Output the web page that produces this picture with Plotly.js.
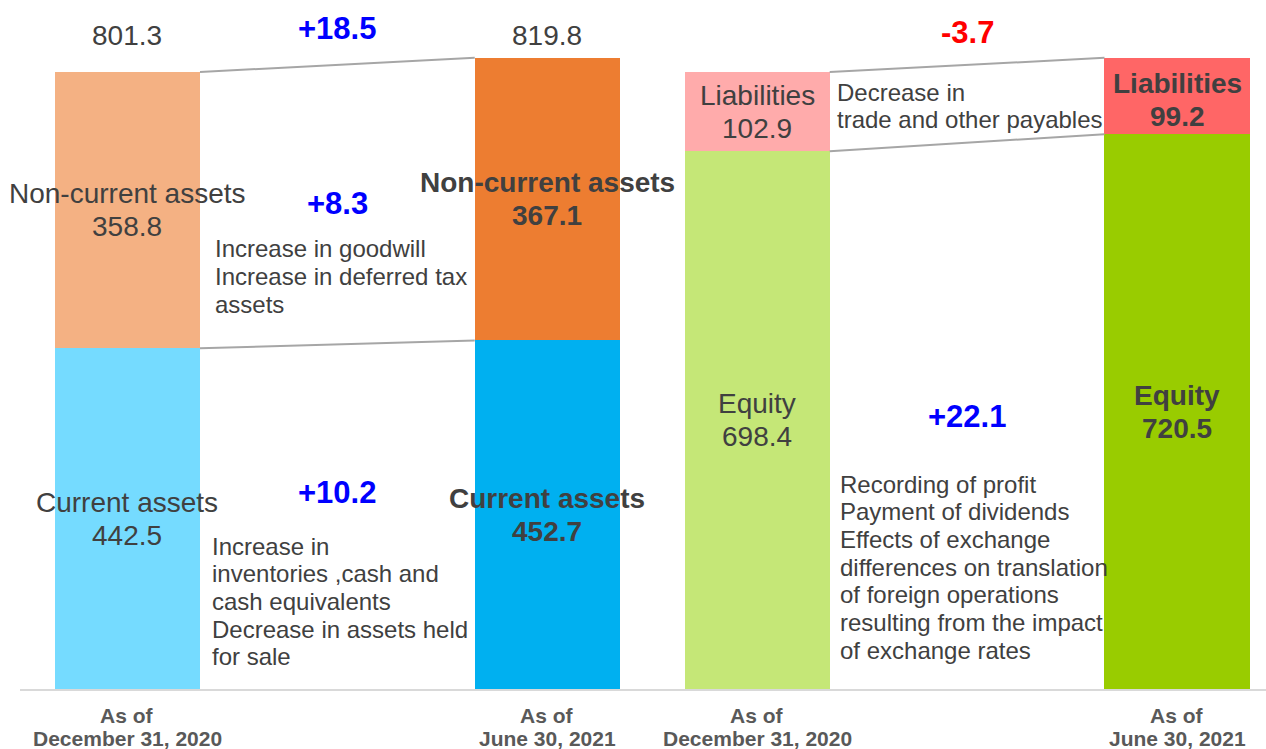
<!DOCTYPE html>
<html>
<head>
<meta charset="utf-8">
<script src="https://cdn.plot.ly/plotly-3.0.1.min.js"></script>
<style>html,body{margin:0;padding:0;background:#fff;}#chart{width:1266px;height:749px;}</style>
</head>
<body>
<div id="chart"></div>
<script>
// ---------- data ----------
const categories = ['As of<br>December 31, 2020', 'As of<br>June 30, 2021', 'As of<br>December 31, 2020', 'As of<br>June 30, 2021'];
const lowerNames = ['Current assets', 'Current assets', 'Equity', 'Equity'];
const lowerValues = [442.5, 452.7, 698.4, 720.5];
const upperNames = ['Non-current assets', 'Non-current assets', 'Liabilities', 'Liabilities'];
const upperValues = [358.8, 367.1, 102.9, 99.2];
const totalLabels = ['801.3', '819.8'];
const changeLabels = ['+18.5', '+8.3', '+10.2', '-3.7', '+22.1'];
const notesNonCurrent = ['Increase in goodwill', 'Increase in deferred tax', 'assets'];
const notesCurrent = ['Increase in', 'inventories ,cash and', 'cash equivalents', 'Decrease in assets held', 'for sale'];
const notesLiabilities = ['Decrease in', 'trade and other payables'];
const notesEquity = ['Recording of profit', 'Payment of dividends', 'Effects of exchange', 'differences on translation', 'of foreign operations', 'resulting from the impact', 'of exchange rates'];

// ---------- layout constants ----------
const positions = [0, 2, 3, 5];
const barWidth = 0.691;
const lowerColors = ['#75DBFF', '#00B0F0', '#C5E777', '#99CC00'];
const upperColors = ['#F4B183', '#ED7D31', '#FFABAB', '#FF6666'];
const boldBar = [false, true, false, true];
const FONT = 'Liberation Sans, Arial, sans-serif';
const TXT = '#404040';
const W = 1266, H = 749, ML = 20, MR = 0, MT = 0, MB = 60;
const XR = [-0.512, 5.424];
const YR = [0, 894.8];
const plotW = W - ML - MR, plotH = H - MT - MB;
function px2x(px) { return XR[0] + (px - ML) / plotW * (XR[1] - XR[0]); }
function px2paperY(py) { return (MT + plotH - py) / plotH; }

const traces = [
  {type: 'bar', x: positions, y: lowerValues, width: barWidth, marker: {color: lowerColors},
   hoverinfo: 'skip', showlegend: false},
  {type: 'bar', x: positions, y: upperValues, width: barWidth, marker: {color: upperColors},
   hoverinfo: 'skip', showlegend: false}
];

const annotations = [];
function ann(o) {
  annotations.push(Object.assign({showarrow: false, xanchor: 'center', yanchor: 'middle',
    font: {family: FONT, size: 24, color: TXT}}, o));
}

// segment labels
for (let i = 0; i < positions.length; i++) {
  const b = boldBar[i];
  const wrap = s => b ? '<b>' + s + '</b>' : s;
  const segs = [
    {name: lowerNames[i], val: lowerValues[i], mid: lowerValues[i] / 2, adj: 0},
    {name: upperNames[i], val: upperValues[i], mid: lowerValues[i] + upperValues[i] / 2, adj: (i === 3 ? -4 : 0)}
  ];
  segs.forEach(s => {
    ann({x: positions[i], xref: 'x', y: s.mid, yref: 'y', yshift: 16.5 + s.adj, text: wrap(s.name), font: {family: FONT, size: 28, color: TXT}});
    ann({x: positions[i], xref: 'x', y: s.mid, yref: 'y', yshift: -16.5 + s.adj, text: wrap(s.val.toFixed(1)), font: {family: FONT, size: 28, color: TXT}});
  });
}
// totals above asset bars
totalLabels.forEach((t, i) => {
  ann({x: positions[i], xref: 'x', y: px2paperY(35), yref: 'paper', text: t, font: {family: FONT, size: 28, color: TXT}});
});
// change labels
const changePlaces = [
  {x: (positions[0] + positions[1]) / 2, py: 28},
  {x: (positions[0] + positions[1]) / 2, py: 203},
  {x: (positions[0] + positions[1]) / 2, py: 492},
  {x: (positions[2] + positions[3]) / 2, py: 32},
  {x: (positions[2] + positions[3]) / 2, py: 416}
];
changeLabels.forEach((t, i) => {
  const col = t.charAt(0) === '-' ? '#FF0000' : '#0000FF';
  ann({x: changePlaces[i].x, xref: 'x', y: px2paperY(changePlaces[i].py), yref: 'paper',
       text: '<b>' + t + '</b>', font: {family: FONT, size: 31, color: col}});
});
// explanatory notes
function noteBlock(lines, leftPx, firstPy) {
  lines.forEach((l, k) => {
    ann({x: px2x(leftPx), xref: 'x', xanchor: 'left', y: px2paperY(firstPy + k * 27.7), yref: 'paper',
         text: l, font: {family: FONT, size: 24, color: TXT}});
  });
}
noteBlock(notesNonCurrent, 213, 249);
noteBlock(notesCurrent, 210, 546);
noteBlock(notesLiabilities, 835, 92);
noteBlock(notesEquity, 838, 484);

// category labels under the axis (two lines each, tight spacing)
categories.forEach((c, i) => {
  c.split('<br>').forEach((line, k) => {
    ann({x: positions[i], xref: 'x', y: px2paperY(715 + k * 23.5), yref: 'paper',
         text: '<b>' + line + '</b>', font: {family: FONT, size: 21, color: '#595959'}});
  });
});

// connector lines
const shapes = [];
[[0, 1], [2, 3]].forEach(([a, b]) => {
  [[lowerValues[a] + upperValues[a], lowerValues[b] + upperValues[b]], [lowerValues[a], lowerValues[b]]].forEach(([y0, y1]) => {
    shapes.push({type: 'line', xref: 'x', yref: 'y', x0: positions[a] + barWidth / 2, x1: positions[b] - barWidth / 2,
                 y0: y0, y1: y1, line: {color: '#A6A6A6', width: 2}});
  });
});

const layout = {
  width: W, height: H,
  margin: {l: ML, r: MR, t: MT, b: MB, pad: 0},
  paper_bgcolor: '#ffffff', plot_bgcolor: '#ffffff',
  barmode: 'stack',
  showlegend: false,
  xaxis: {range: XR, tickvals: positions, showticklabels: false, ticks: '',
          showgrid: false, zeroline: false,
          showline: true, linecolor: '#D9D9D9', linewidth: 2, fixedrange: true},
  yaxis: {range: YR, visible: false, showgrid: false, zeroline: false, fixedrange: true},
  annotations: annotations,
  shapes: shapes
};

Plotly.newPlot('chart', traces, layout, {displayModeBar: false, staticPlot: true});
</script>
</body>
</html>
